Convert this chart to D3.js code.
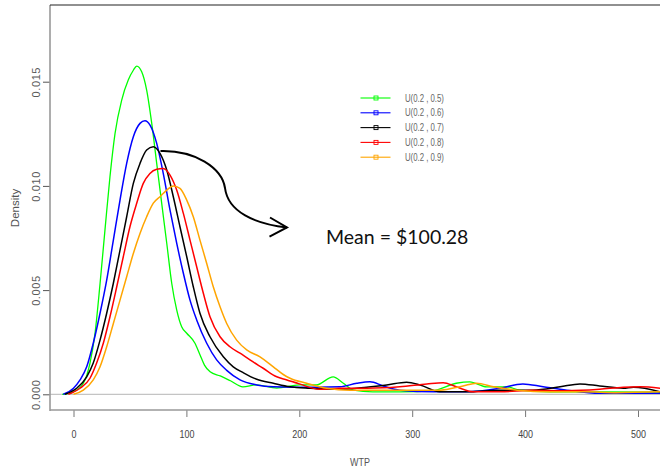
<!DOCTYPE html>
<html>
<head>
<meta charset="utf-8">
<script src="https://cdn.jsdelivr.net/npm/d3@7"></script>
<style>
  html, body { margin: 0; padding: 0; background: #fff; }
  svg { display: block; }
  .narrow { font-family: "Liberation Sans", Arial, sans-serif; }
</style>
</head>
<body>
<svg id="chart" width="660" height="474"></svg>
<script>
// Kernel density estimates of WTP under five uniform priors, [WTP, density]
const seriesU05 = [[-10,0],[0,0.00012],[8.7,0.00053],[14.6,0.0015],[19,0.0029],[23.5,0.0053],[27.9,0.0079],[32.3,0.01044],[36.8,0.01252],[42.7,0.01412],[48.5,0.01508],[53,0.01555],[56,0.01575],[60.4,0.01548],[64.8,0.0146],[69.3,0.013],[73.7,0.01108],[78.1,0.00917],[82.6,0.00725],[87,0.00533],[91.4,0.00405],[95.8,0.00324],[100.3,0.00293],[107.6,0.00245],[112,0.0019],[116,0.0014],[121,0.00108],[130,0.00088],[139,0.00065],[150,0.00036],[162,0.00045],[180,0.0003],[200,0.00045],[215,0.00045],[230,0.00084],[239,0.00053],[248,0.0002],[265,0.00012],[290,0.00012],[318,0.00017],[339,0.00053],[351,0.0006],[366,0.00036],[384,0.00036],[395,0.0002],[422,0.00012],[466,0.00012],[520,0.0001]];
const seriesU06 = [[-9,0],[0,0.00029],[5.8,0.00069],[11.7,0.00132],[17.5,0.00245],[23.5,0.00389],[29.4,0.00548],[35.3,0.0074],[41.2,0.00932],[47.1,0.01108],[53,0.01236],[58.9,0.013],[63.3,0.01313],[67.8,0.01292],[73.7,0.01204],[79.5,0.0106],[85.5,0.00884],[91.4,0.00725],[97.3,0.00581],[103.2,0.00452],[109.1,0.00357],[118,0.00245],[126.8,0.00165],[135.7,0.00115],[147.5,0.00069],[162.3,0.00045],[177,0.00036],[195,0.00034],[215,0.00034],[236,0.00036],[251,0.00053],[262.6,0.0006],[274.4,0.0004],[289,0.0002],[319,0.00012],[348,0.00012],[378,0.00029],[398,0.0005],[416,0.00036],[437,0.0002],[466,0.00005],[520,0.00005]];
const seriesU07 = [[-7.5,0],[2.8,0.00029],[11.7,0.00084],[17.5,0.0015],[23.5,0.0026],[29.4,0.00389],[35.3,0.00533],[41.2,0.00692],[47.1,0.00852],[53,0.01012],[58.9,0.01108],[64.8,0.01172],[70.7,0.01188],[76.6,0.01156],[82.6,0.01076],[88.4,0.00948],[94.3,0.00804],[100.3,0.0066],[106.1,0.00516],[112,0.00389],[120.9,0.00276],[132.7,0.0018],[141.5,0.00132],[150,0.00105],[162.3,0.00072],[177,0.00053],[191.8,0.00036],[209.5,0.00029],[236,0.00024],[259.7,0.00034],[277.4,0.00045],[295,0.00058],[307,0.00045],[324.6,0.00012],[348,0.00012],[378,0.0002],[407,0.0002],[431,0.00036],[448.6,0.0005],[466,0.0004],[487,0.00029],[496,0.00034],[520,0.00012]];
const seriesU08 = [[-4.6,0],[5.8,0.00029],[14.6,0.00077],[20.5,0.0015],[26.4,0.00245],[32.3,0.00372],[38.3,0.00516],[44.1,0.0066],[50,0.00804],[56,0.00917],[61.8,0.01012],[67.7,0.0106],[73.7,0.0108],[79.5,0.01084],[85.5,0.01052],[91.4,0.0098],[97.3,0.00868],[103.2,0.0074],[109.1,0.00612],[115,0.00485],[120.9,0.00372],[129.8,0.00276],[138.6,0.00228],[147.5,0.00197],[156.3,0.00165],[168,0.00125],[180,0.00084],[189,0.00069],[200,0.0005],[218,0.00024],[236,0.00029],[260,0.00029],[289,0.00036],[313,0.0005],[327.5,0.00056],[339,0.00036],[354,0.00012],[378,0.00012],[407,0.0002],[437,0.00017],[466,0.00024],[487,0.00034],[502,0.00036],[520,0.00029]];
const seriesU09 = [[0,0],[8.7,0.0002],[17.5,0.00069],[23.5,0.00132],[29.4,0.00228],[35.3,0.0034],[41.2,0.00452],[47.1,0.00564],[53,0.00676],[58.9,0.00772],[64.8,0.00852],[70.7,0.00917],[76.6,0.00948],[82.6,0.0098],[88.4,0.01],[94.3,0.00988],[100.3,0.00932],[106.1,0.00852],[112,0.0074],[118,0.00628],[123.8,0.00516],[129.8,0.0042],[135.7,0.0034],[144.5,0.0026],[153.4,0.00213],[165.2,0.0018],[177,0.00132],[185.8,0.00095],[191.8,0.00077],[206.5,0.00053],[224.3,0.00029],[245,0.0002],[274,0.0002],[304,0.0002],[325,0.0002],[345,0.0004],[357,0.00053],[372,0.00036],[393,0.0002],[422,0.00012],[452,0.00012],[481,0.00008],[520,0.00012]];

const seriesNames = ["U(0.2 , 0.5)", "U(0.2 , 0.6)", "U(0.2 , 0.7)", "U(0.2 , 0.8)", "U(0.2 , 0.9)"];
const seriesColors = ["#00ff00", "#0000ff", "#000000", "#ff0000", "#ffa500"];
const seriesData = [seriesU05, seriesU06, seriesU07, seriesU08, seriesU09];

const xTicks = [0, 100, 200, 300, 400, 500];
const yTicks = [0, 0.005, 0.010, 0.015];
const yTickLabels = ["0.000", "0.005", "0.010", "0.015"];
const annotationText = "Mean = $100.28";

const svg = d3.select("#chart");
const frame = { left: 50, right: 660, top: 5, bottom: 410 };
const condense = 0.78; // horizontal squeeze for the condensed label face

const x = d3.scaleLinear().domain([0, 500]).range([73.5, 638]);
const y = d3.scaleLinear().domain([0, 0.015]).range([394.3, 81.7]);

svg.append("defs").append("clipPath").attr("id", "plotClip")
  .append("rect")
  .attr("x", frame.left).attr("y", frame.top)
  .attr("width", frame.right - frame.left).attr("height", frame.bottom - frame.top);

// zero baseline
svg.append("line")
  .attr("x1", frame.left).attr("x2", frame.right)
  .attr("y1", y(0)).attr("y2", y(0))
  .attr("stroke", "#c4c4c4").attr("stroke-width", 1.2);

// density curves
const line = d3.line()
  .x(d => x(d[0]))
  .y(d => y(d[1]))
  .curve(d3.curveMonotoneX);

const curves = svg.append("g").attr("clip-path", "url(#plotClip)");
seriesData.forEach((s, i) => {
  curves.append("path")
    .datum(s)
    .attr("d", line)
    .attr("fill", "none")
    .attr("stroke", seriesColors[i])
    .attr("stroke-width", i === 0 ? 1.3 : 1.5)
    .attr("stroke-linejoin", "round");
});

// axes
const xAxis = d3.axisBottom(x).tickValues(xTicks).tickSize(7).tickSizeOuter(0);
const gx = svg.append("g").attr("transform", `translate(0,${frame.bottom})`).call(xAxis);
gx.select(".domain").remove();
gx.selectAll(".tick line").attr("stroke", "#777");
gx.selectAll(".tick text")
  .attr("class", "narrow")
  .attr("y", 0).attr("dy", 0)
  .attr("transform", `translate(0,28) scale(${condense},1)`)
  .attr("fill", "#444").attr("font-size", 11.5);

const yAxis = d3.axisLeft(y).tickValues(yTicks).tickFormat((d, i) => yTickLabels[i]).tickSize(7).tickSizeOuter(0);
const gy = svg.append("g").attr("transform", `translate(${frame.left},0)`).call(yAxis);
gy.select(".domain").remove();
gy.selectAll(".tick line").attr("stroke", "#555");
gy.selectAll(".tick text")
  .attr("x", 0).attr("dy", 0)
  .attr("transform", "translate(-10,0) rotate(-90)")
  .attr("text-anchor", "middle")
  .attr("font-family", "Liberation Sans, Arial, sans-serif")
  .attr("font-size", 11)
  .attr("letter-spacing", 0.6)
  .attr("fill", "#5a5a5a");

// frame lines
svg.append("line").attr("x1", frame.left).attr("x2", frame.left)
  .attr("y1", frame.top).attr("y2", frame.bottom + 1)
  .attr("stroke", "#999").attr("stroke-width", 1.6);
svg.append("line").attr("x1", frame.left).attr("x2", frame.right)
  .attr("y1", frame.bottom).attr("y2", frame.bottom)
  .attr("stroke", "#999").attr("stroke-width", 1.6);
svg.append("line").attr("x1", frame.left).attr("x2", frame.right)
  .attr("y1", frame.top).attr("y2", frame.top)
  .attr("stroke", "#222").attr("stroke-width", 1.2);

// axis titles
svg.append("text")
  .attr("class", "narrow")
  .attr("transform", `translate(360,466) scale(${condense},1)`)
  .attr("text-anchor", "middle")
  .attr("font-size", 11.5).attr("fill", "#555")
  .text("WTP");
svg.append("text")
  .attr("transform", "translate(19,208) rotate(-90)")
  .attr("text-anchor", "middle")
  .attr("font-family", "Liberation Sans, Arial, sans-serif")
  .attr("font-size", 11.5).attr("fill", "#555")
  .text("Density");

// legend
const legend = svg.append("g").attr("transform", "translate(360,98)");
seriesNames.forEach((name, i) => {
  const row = legend.append("g").attr("transform", `translate(0,${i * 14.8})`);
  row.append("line").attr("x1", 0.5).attr("x2", 30.5).attr("y1", 0).attr("y2", 0)
    .attr("stroke", seriesColors[i]).attr("stroke-width", 1.1);
  row.append("rect").attr("x", 14).attr("y", -2).attr("width", 4).attr("height", 4)
    .attr("fill", "none").attr("stroke", seriesColors[i]).attr("stroke-width", 0.9);
  row.append("text").attr("class", "narrow")
    .attr("transform", `translate(45,0) scale(${condense},1)`)
    .attr("dy", "0.35em")
    .attr("font-size", 10).attr("fill", "#666")
    .text(name);
});

// annotation arrow pointing from the U(0.2, 0.7) peak to the mean label
const arrowPath = d3.path();
arrowPath.moveTo(160.5, 151);
arrowPath.bezierCurveTo(195, 150, 222, 168, 225, 188);
arrowPath.bezierCurveTo(228, 212, 255, 224, 287, 227.5);
svg.append("path").attr("d", arrowPath.toString())
  .attr("fill", "none").attr("stroke", "#000").attr("stroke-width", 2);
svg.append("path").attr("d", "M270,217.5 L287,227.5 L269.5,236.7")
  .attr("fill", "none").attr("stroke", "#000").attr("stroke-width", 2)
  .attr("stroke-linejoin", "miter");

svg.append("text")
  .attr("x", 326).attr("y", 244)
  .attr("font-family", "Lato, 'Open Sans', sans-serif")
  .attr("font-size", 19.5).attr("fill", "#111")
  .text(annotationText);
</script>
</body>
</html>
